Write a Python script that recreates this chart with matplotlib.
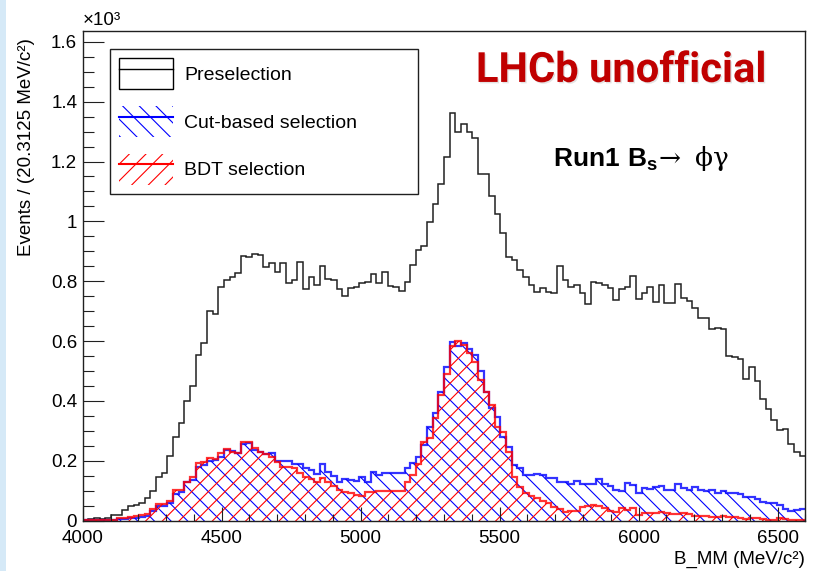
import numpy as np
import matplotlib
matplotlib.use('Agg')
import matplotlib.pyplot as plt
from matplotlib.patches import Patch, Rectangle
from matplotlib.lines import Line2D
from matplotlib.ticker import MultipleLocator, FuncFormatter
import matplotlib.patheffects as pe

plt.rcParams['font.family'] = ['Liberation Sans', 'DejaVu Sans']
plt.rcParams['mathtext.fontset'] = 'custom'
plt.rcParams['mathtext.bf'] = 'Liberation Sans:bold'
plt.rcParams['mathtext.rm'] = 'DejaVu Serif'
plt.rcParams['hatch.linewidth'] = 0.8

# B_MM binning: 128 bins of 20.3125 MeV/c^2
x_min, x_max, n_bins = 4000.0, 6600.0, 128
edges = np.linspace(x_min, x_max, n_bins + 1)

# events per bin
presel = [
    3, 5, 8, 6, 8, 20, 20, 35, 50, 52,
    58, 75, 100, 145, 160, 215, 280, 325, 400, 450,
    555, 595, 700, 690, 780, 805, 815, 828, 885, 880,
    890, 888, 848, 860, 832, 860, 795, 804, 864, 774,
    815, 787, 852, 807, 804, 774, 750, 777, 780, 794,
    796, 823, 794, 832, 785, 781, 768, 798, 853, 904,
    918, 997, 1058, 1124, 1214, 1363, 1299, 1325, 1299, 1280,
    1158, 1158, 1085, 1024, 960, 882, 871, 837, 815, 787,
    765, 776, 765, 760, 851, 804, 780, 787, 760, 724,
    798, 795, 787, 776, 737, 773, 782, 818, 740, 760,
    780, 732, 787, 726, 726, 790, 743, 735, 711, 676,
    676, 640, 645, 639, 551, 548, 540, 473, 512, 468,
    405, 372, 336, 303, 305, 256, 230, 216,
]
cut_based = [
    1, 1, 1, 2, 2, 3, 5, 6, 8, 10,
    12, 15, 34, 48, 50, 60, 88, 96, 128, 137,
    181, 186, 200, 203, 214, 235, 233, 227, 257, 258,
    237, 230, 223, 227, 200, 200, 200, 189, 189, 175,
    169, 156, 189, 164, 149, 130, 138, 136, 134, 147,
    130, 164, 153, 160, 158, 160, 160, 175, 192, 214,
    253, 314, 361, 430, 512, 598, 583, 592, 572, 553,
    501, 431, 375, 347, 279, 245, 186, 175, 153, 153,
    156, 153, 142, 142, 130, 130, 123, 134, 123, 123,
    123, 139, 123, 116, 102, 100, 125, 120, 91, 108,
    106, 114, 115, 102, 102, 121, 108, 102, 114, 102,
    100, 102, 94, 100, 91, 91, 89, 80, 80, 71,
    64, 58, 60, 52, 38, 33, 36, 38,
]
bdt = [
    1, 1, 2, 2, 3, 3, 8, 8, 13, 15,
    20, 21, 40, 55, 57, 66, 102, 104, 130, 145,
    192, 197, 208, 205, 225, 238, 228, 227, 264, 262,
    242, 228, 222, 213, 197, 180, 178, 175, 158, 147,
    138, 130, 142, 130, 116, 102, 97, 92, 86, 84,
    97, 96, 98, 100, 100, 100, 100, 130, 153, 189,
    264, 275, 342, 420, 490, 583, 601, 587, 559, 531,
    470, 431, 385, 314, 297, 230, 147, 114, 91, 84,
    75, 67, 58, 47, 38, 30, 32, 34, 47, 48,
    52, 50, 42, 34, 30, 41, 36, 41, 19, 25,
    25, 27, 30, 27, 22, 22, 25, 22, 17, 15,
    17, 13, 13, 17, 13, 11, 9, 6, 8, 8,
    6, 2, 2, 8, 6, 2, 1, 1,
]

fig = plt.figure(figsize=(8.4, 5.71), dpi=100)
# light strip on the left border of the slide
fig.patches.append(Rectangle((0, 0), 6 / 840, 1, transform=fig.transFigure,
                             facecolor='#d5e9f7', edgecolor='none', zorder=0))

ax = fig.add_axes([0.0985, 0.0881, 0.8602, 0.8576])

# preselection outline
ax.stairs(presel, edges, baseline=None, color='#202020', lw=1.1, zorder=1.2)
# cut-based selection, hatched
ax.stairs(cut_based, edges, fill=True, facecolor='none', edgecolor='blue',
          hatch='\\\\', linewidth=0, zorder=1.3)
ax.stairs(cut_based, edges, baseline=None, color='blue', lw=1.6, alpha=0.8, zorder=1.4)
# BDT selection, hatched the other way
ax.stairs(bdt, edges, fill=True, facecolor='none', edgecolor='red',
          hatch='//', linewidth=0, zorder=1.5)
ax.stairs(bdt, edges, baseline=None, color='red', lw=1.6, alpha=0.8, zorder=1.6)

ax.set_xlim(x_min, x_max)
ax.set_ylim(0, 1636)
ax.set_axisbelow(False)

ax.xaxis.set_major_locator(MultipleLocator(500))
ax.xaxis.set_minor_locator(MultipleLocator(100))
ax.yaxis.set_major_locator(MultipleLocator(200))
ax.yaxis.set_minor_locator(MultipleLocator(50))
ax.yaxis.set_major_formatter(FuncFormatter(lambda v, pos: f'{v / 1000:g}'))

ax.tick_params(which='both', direction='in', top=False, right=False,
               width=0.8, color='#202020', labelsize=13.5)
ax.tick_params(axis='y', which='major', length=15, pad=4)
ax.tick_params(axis='y', which='minor', length=8)
ax.tick_params(axis='x', which='major', length=10, pad=6.5)
ax.tick_params(axis='x', which='minor', length=5)
for sp in ax.spines.values():
    sp.set_linewidth(1.0)
    sp.set_color('#202020')

ax.text(0.0, 1.004, '×10³', transform=ax.transAxes, fontsize=13.5,
        ha='left', va='bottom')
fig.text(27 / 840, 1 - 147 / 571, 'Events / (20.3125 MeV/c²)', rotation=90,
         fontsize=13.5, ha='center', va='center')
ax.set_xlabel('B_MM (MeV/c²)', fontsize=13.5, loc='right', labelpad=3)

# legend: box with a line through it, like ROOT's "lf" option
handles = [
    (Patch(facecolor='white', edgecolor='black', linewidth=1.0),
     Line2D([], [], color='black', lw=1.0)),
    (Patch(facecolor='none', edgecolor='blue', hatch='\\\\', linewidth=0),
     Line2D([], [], color='blue', lw=1.5)),
    (Patch(facecolor='none', edgecolor='red', hatch='//', linewidth=0),
     Line2D([], [], color='red', lw=1.5)),
]
labels = ['Preselection', 'Cut-based selection', 'BDT selection']
leg = ax.legend(handles, labels, loc='upper left',
                bbox_to_anchor=(0.0378, 0.663, 0.4262, 0.3003), mode='expand',
                borderaxespad=0, fontsize=14, handlelength=2.8, handleheight=2.12,
                labelspacing=0.84, borderpad=0.45, handletextpad=0.57,
                fancybox=False, framealpha=1, edgecolor='#202020')
leg.get_frame().set_linewidth(1.0)

ax.text(0.745, 0.896, 'LHCb unofficial', transform=ax.transAxes,
        fontsize=30, fontfamily='Roboto', fontweight='bold', color='#c00000',
        ha='center', va='baseline',
        path_effects=[pe.withSimplePatchShadow(offset=(1.0, -1.0), shadow_rgbFace='#909090', alpha=0.25)])
ax.text(0.6513, 0.7252, r'$\mathbf{Run1\ B_{s}}\!\rightarrow\ \mathrm{\phi\gamma}$',
        transform=ax.transAxes, fontsize=19, ha='left', va='baseline')

fig.savefig('out.png', dpi=100)
